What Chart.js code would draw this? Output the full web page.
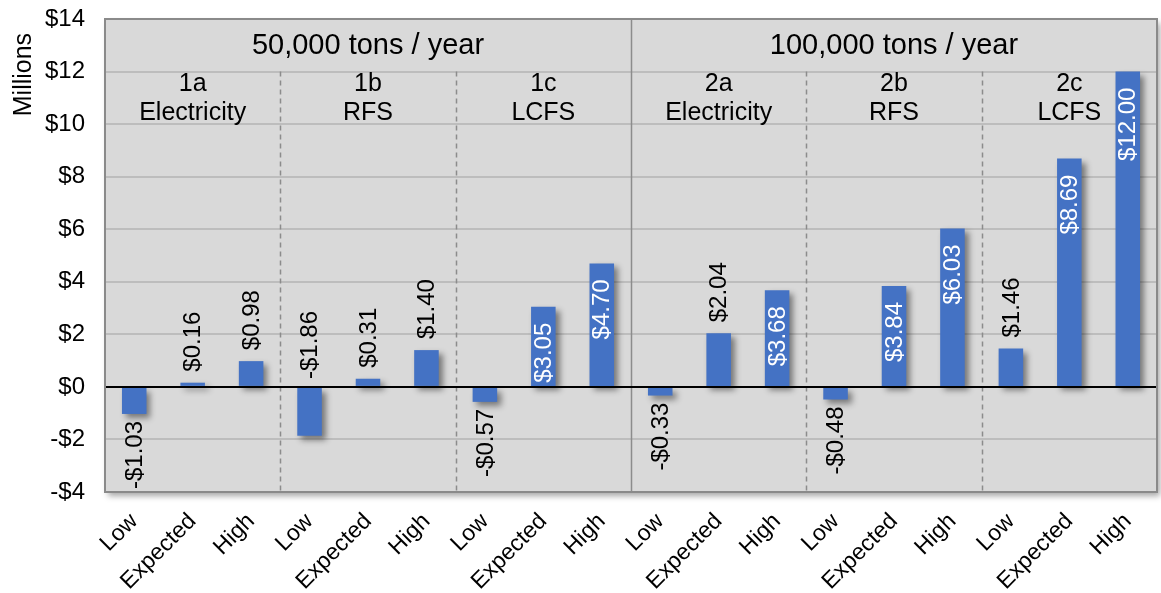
<!DOCTYPE html>
<html>
<head>
<meta charset="utf-8">
<script src="https://cdn.jsdelivr.net/npm/chart.js@4.4.1/dist/chart.umd.min.js"></script>
<style>
  html, body { margin: 0; padding: 0; background: #fff; }
</style>
</head>
<body>
<canvas id="chart" width="1161" height="593"></canvas>
<script>
// Net value per case, in millions of dollars

const scenarios = ['Low', 'Expected', 'High'];
const categories = [
    'Low', 'Expected', 'High', 'Low', 'Expected', 'High', 'Low', 'Expected', 'High',
    'Low', 'Expected', 'High', 'Low', 'Expected', 'High', 'Low', 'Expected', 'High'
];
const values = [
    -1.03, 0.16, 0.98,    // 1a Electricity
    -1.86, 0.31, 1.40,    // 1b RFS
    -0.57, 3.05, 4.70,    // 1c LCFS
    -0.33, 2.04, 3.68,    // 2a Electricity
    -0.48, 3.84, 6.03,    // 2b RFS
    1.46, 8.69, 12.00     // 2c LCFS
];
const groupCodes = ['1a', '1b', '1c', '2a', '2b', '2c'];
const groupNames = ['Electricity', 'RFS', 'LCFS', 'Electricity', 'RFS', 'LCFS'];
const capacities = ['50,000 tons / year', '100,000 tons / year'];
const yMin = -4;
const yMax = 14;
const yStep = 2;

// where each value label sits: out = past the bar end, in = inside the bar end,
// up = above the zero line
const labelPlacement = [
    'out', 'out', 'out', 'up', 'out', 'out', 'out', 'in', 'in',
    'out', 'out', 'in', 'out', 'in', 'in', 'out', 'in', 'in'
];

const FONT = '"Liberation Sans", Arial, sans-serif';
const BAR_BLUE = '#4472c4';

const money = v => (v < 0 ? '-' : '') + '$' + Math.abs(v).toFixed(2);

const plotFrame = {
    id: 'plotFrame',

    beforeDraw(chart) {
        const { ctx, chartArea: a } = chart;
        ctx.save();
        ctx.shadowColor = 'rgba(0, 0, 0, 0.35)';
        ctx.shadowBlur = 6;
        ctx.shadowOffsetX = 3;
        ctx.shadowOffsetY = 4;
        ctx.fillStyle = '#d9d9d9';
        ctx.fillRect(a.left, a.top, a.width, a.height);
        ctx.restore();
    },

    beforeDatasetsDraw(chart) {
        const { ctx, chartArea: a, scales: { x, y } } = chart;
        const y12 = y.getPixelForValue(12);
        const per = scenarios.length;

        // group separators: solid between capacities, dashed between cases
        ctx.save();
        ctx.strokeStyle = '#8c8c8c';
        ctx.lineWidth = 1.5;
        for (let g = 1; g < groupCodes.length; g++) {
            const i = g * per;
            const sx = Math.round((x.getPixelForTick(i - 1) + x.getPixelForTick(i)) / 2) + 0.5;
            const solid = g === groupCodes.length / 2;
            ctx.setLineDash(solid ? [] : [5, 4]);
            ctx.beginPath();
            ctx.moveTo(sx, solid ? a.top : y12);
            ctx.lineTo(sx, a.bottom);
            ctx.stroke();
        }
        ctx.restore();

        // capacity and case headings
        ctx.save();
        ctx.fillStyle = '#000';
        ctx.textAlign = 'center';
        ctx.textBaseline = 'middle';
        const half = categories.length / capacities.length;
        ctx.font = `29px ${FONT}`;
        capacities.forEach((t, c) => {
            const cx = (x.getPixelForTick(c * half) + x.getPixelForTick(c * half + half - 1)) / 2;
            ctx.fillText(t, cx, (y.getPixelForValue(yMax) + y12) / 2 + 1);
        });
        ctx.font = `25px ${FONT}`;
        groupCodes.forEach((code, g) => {
            const cx = (x.getPixelForTick(g * per) + x.getPixelForTick(g * per + per - 1)) / 2;
            ctx.fillText(code, cx, y12 + 13);
            ctx.fillText(groupNames[g], cx, y12 + 42);
        });
        ctx.restore();

        // soft drop shadow under the bars
        ctx.save();
        ctx.shadowColor = 'rgba(0, 0, 0, 0.45)';
        ctx.shadowBlur = 6;
        ctx.shadowOffsetX = 4;
        ctx.shadowOffsetY = 4;
    },

    afterDatasetsDraw(chart) {
        const { ctx, chartArea: a, scales: { y } } = chart;
        ctx.restore();

        const zero = Math.round(y.getPixelForValue(0));
        ctx.save();
        ctx.strokeStyle = '#000';
        ctx.lineWidth = 2;
        ctx.beginPath();
        ctx.moveTo(a.left, zero);
        ctx.lineTo(a.right, zero);
        ctx.stroke();

        ctx.strokeStyle = '#8a8a8a';
        ctx.lineWidth = 2;
        ctx.strokeRect(a.left, a.top, a.width, a.height);
        ctx.restore();

        // rotated value labels
        const bars = chart.getDatasetMeta(0).data;
        ctx.save();
        ctx.font = `24px ${FONT}`;
        ctx.textBaseline = 'middle';
        bars.forEach((bar, i) => {
            const v = values[i];
            const spot = labelPlacement[i];
            let anchor, align, color = '#000';
            if (spot === 'in') {
                anchor = bar.y + 16; align = 'right'; color = '#fff';
            } else if (spot === 'up') {
                anchor = zero - 8; align = 'left';
            } else if (v >= 0) {
                anchor = bar.y - 11; align = 'left';
            } else {
                anchor = bar.y + 7; align = 'right';
            }
            ctx.save();
            ctx.translate(bar.x + 1, anchor);
            ctx.rotate(-Math.PI / 2);
            ctx.textAlign = align;
            ctx.fillStyle = color;
            ctx.fillText(money(v), 0, 0);
            ctx.restore();
        });
        ctx.restore();
    }
};

new Chart(document.getElementById('chart'), {
    type: 'bar',
    data: {
        labels: categories,
        datasets: [{
            data: values,
            backgroundColor: BAR_BLUE,
            borderWidth: 0,
            barPercentage: 0.42,
            categoryPercentage: 1
        }]
    },
    options: {
        responsive: false,
        animation: false,
        devicePixelRatio: 1,
        layout: { padding: { top: 19, right: 4, bottom: 0, left: 0 } },
        plugins: {
            legend: { display: false },
            tooltip: { enabled: false }
        },
        scales: {
            x: {
                grid: { display: false },
                border: { display: false },
                ticks: {
                    autoSkip: false,
                    minRotation: 45,
                    maxRotation: 45,
                    padding: 8,
                    color: '#000',
                    font: { family: FONT, size: 23 }
                },
                afterFit(scale) { scale.height = 101; }
            },
            y: {
                min: yMin,
                max: yMax,
                ticks: {
                    stepSize: yStep,
                    padding: 0,
                    color: '#000',
                    font: { family: FONT, size: 24 },
                    callback: v => (v < 0 ? '-' : '') + '$' + Math.abs(v)
                },
                grid: {
                    color: '#bdbdbd',
                    lineWidth: 2,
                    drawTicks: true,
                    tickLength: 20,
                    tickColor: 'rgba(0, 0, 0, 0)'
                },
                border: { display: false },
                title: {
                    display: true,
                    text: 'Millions  ',
                    align: 'end',
                    color: '#000',
                    padding: { top: 9, bottom: 0 },
                    font: { family: FONT, size: 25 }
                },
                afterFit(scale) { scale.width = 105; }
            }
        }
    },
    plugins: [plotFrame]
});
</script>
</body>
</html>
